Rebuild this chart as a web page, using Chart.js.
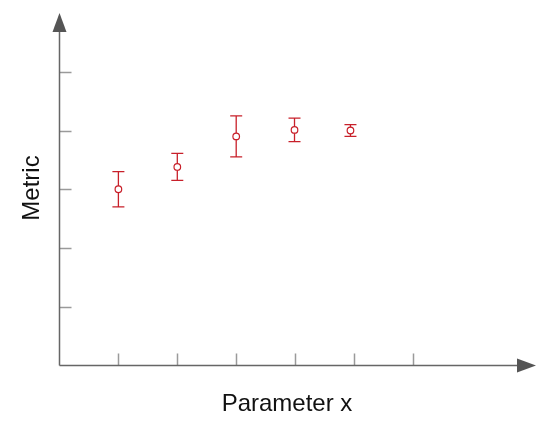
<!DOCTYPE html>
<html>
<head>
<meta charset="utf-8">
<script src="https://cdn.jsdelivr.net/npm/chart.js@4/dist/chart.umd.min.js"></script>
<style>
  html, body { margin: 0; padding: 0; background: #fff; }
  #wrap { width: 555px; height: 425px; }
</style>
</head>
<body>
<div id="wrap"><canvas id="chart1" width="555" height="425"></canvas></div>
<script>
// data
var xValues = [1, 2, 3, 3.99, 4.94];
var yValues = [3.0, 3.38, 3.9, 4.01, 4.0];
var yErrors = [0.3, 0.23, 0.35, 0.2, 0.1];
var xTicks = [1, 2, 3, 4, 5, 6];
var yTicks = [1, 2, 3, 4, 5];
var xTitle = 'Parameter x';
var yTitle = 'Metric';

var red = 'rgb(200, 32, 42)';
var axisColor = '#666666';
var tickColor = '#9a9a9a';

var points = xValues.map(function (x, i) { return { x: x, y: yValues[i] }; });

// error bars, drawn under the markers
var errorBars = {
    id: 'errorBars',
    beforeDatasetsDraw: function (chart) {
        var ctx = chart.ctx;
        var xs = chart.scales.x, ys = chart.scales.y;
        ctx.save();
        ctx.strokeStyle = red;
        ctx.lineWidth = 1.3;
        for (var i = 0; i < xValues.length; i++) {
            var px = xs.getPixelForValue(xValues[i]);
            var top = ys.getPixelForValue(yValues[i] + yErrors[i]);
            var bot = ys.getPixelForValue(yValues[i] - yErrors[i]);
            ctx.beginPath();
            ctx.moveTo(px, top); ctx.lineTo(px, bot);
            ctx.moveTo(px - 6, top); ctx.lineTo(px + 6, top);
            ctx.moveTo(px - 6, bot); ctx.lineTo(px + 6, bot);
            ctx.stroke();
        }
        ctx.restore();
    }
};

// axes with arrow heads, inner ticks and titles
var arrowAxes = {
    id: 'arrowAxes',
    afterDraw: function (chart) {
        var ctx = chart.ctx;
        var xs = chart.scales.x, ys = chart.scales.y;
        var a = chart.chartArea;
        var x0 = xs.getPixelForValue(0), y0 = ys.getPixelForValue(0);
        ctx.save();

        ctx.strokeStyle = tickColor;
        ctx.lineWidth = 1.5;
        ctx.beginPath();
        xTicks.forEach(function (v) {
            var px = Math.round(xs.getPixelForValue(v)) + 0.5;
            ctx.moveTo(px, y0); ctx.lineTo(px, y0 - 12);
        });
        yTicks.forEach(function (v) {
            var py = Math.round(ys.getPixelForValue(v)) + 0.5;
            ctx.moveTo(x0, py); ctx.lineTo(x0 + 12, py);
        });
        ctx.stroke();

        ctx.strokeStyle = axisColor;
        ctx.beginPath();
        ctx.moveTo(x0, y0); ctx.lineTo(a.right - 18, y0);
        ctx.moveTo(x0, y0); ctx.lineTo(x0, a.top + 18);
        ctx.stroke();

        ctx.fillStyle = '#555555';
        ctx.beginPath();
        ctx.moveTo(a.right, y0);
        ctx.lineTo(a.right - 19, y0 - 7);
        ctx.lineTo(a.right - 19, y0 + 7);
        ctx.closePath();
        ctx.fill();
        ctx.beginPath();
        ctx.moveTo(x0, a.top);
        ctx.lineTo(x0 - 7, a.top + 19);
        ctx.lineTo(x0 + 7, a.top + 19);
        ctx.closePath();
        ctx.fill();

        ctx.fillStyle = '#111111';
        ctx.font = '24px "Liberation Sans", Arial, sans-serif';
        ctx.textAlign = 'center';
        ctx.textBaseline = 'alphabetic';
        ctx.fillText(xTitle, 287, 411);
        ctx.translate(39, 188);
        ctx.rotate(-Math.PI / 2);
        ctx.fillText(yTitle, 0, 0);
        ctx.restore();
    }
};

var ctx = document.getElementById('chart1').getContext('2d');
var chart1 = new Chart(ctx, {
    type: 'scatter',
    data: {
        datasets: [{
            label: yTitle,
            data: points,
            pointStyle: 'circle',
            pointRadius: 3.3,
            pointBorderWidth: 1.2,
            pointBorderColor: red,
            pointBackgroundColor: '#ffffff',
            showLine: false
        }]
    },
    options: {
        responsive: false,
        animation: false,
        layout: { padding: { left: 59.5, right: 19, top: 13, bottom: 59.5 } },
        plugins: { legend: { display: false }, tooltip: { enabled: false } },
        scales: {
            x: { type: 'linear', display: false, min: 0, max: 8.09 },
            y: { type: 'linear', display: false, min: 0, max: 6 }
        }
    },
    plugins: [errorBars, arrowAxes]
});
</script>
</body>
</html>
